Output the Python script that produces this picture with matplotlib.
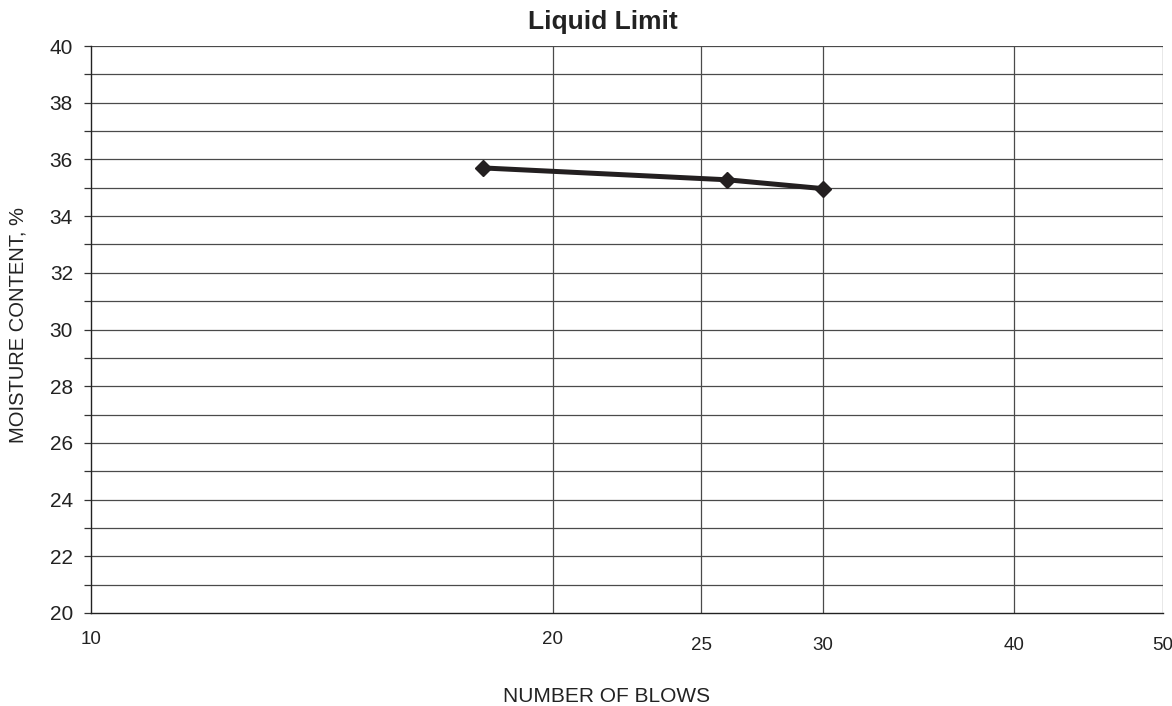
import matplotlib
matplotlib.use("Agg")
import matplotlib.pyplot as plt
from matplotlib.ticker import FixedLocator, NullFormatter, NullLocator
import matplotlib.transforms as mtransforms

plt.rcParams.update({"font.family": ["Liberation Sans", "DejaVu Sans"], "font.size": 13})

# ---- data ----
blows = [18, 26, 30]
moisture = [35.7, 35.28, 34.97]
x_ticks = [10, 20, 25, 30, 40, 50]
x_tick_dy = [0, 0, 5, 5, 5, 5]      # small vertical stagger of the x labels (px)
y_major = list(range(20, 41, 2))
y_minor = list(range(21, 40, 2))

fig = plt.figure(figsize=(11.72, 7.06), dpi=100)
ax = fig.add_axes([91 / 1172, 1 - 613 / 706, (1163 - 91) / 1172, (613 - 46) / 706])

ax.set_xscale("log")
ax.set_xlim(10, 50)
ax.set_ylim(20, 40)

# grid
grid_c = "#4a4a4a"
for x in x_ticks[1:]:
    ax.axvline(x, color=grid_c, lw=0.9, zorder=1)
for y in y_major[1:] + y_minor:
    ax.axhline(y, color=grid_c, lw=0.9, zorder=1)

ax.plot(blows, moisture, "-", color="#231f20", lw=3.6, zorder=3)
ax.plot(blows, moisture, "D", color="#231f20", ms=8, zorder=4)

# y axis
ax.yaxis.set_major_locator(FixedLocator(y_major))
ax.yaxis.set_minor_locator(FixedLocator(y_minor))
ax.tick_params(axis="y", which="both", direction="out", length=5, width=0.9,
               color="#333333", labelcolor="#222222", pad=8, labelsize=15)
ax.yaxis.set_minor_formatter(NullFormatter())

# x axis: labels drawn as text below the axis
ax.xaxis.set_major_locator(NullLocator())
ax.xaxis.set_minor_locator(NullLocator())
trans = mtransforms.blended_transform_factory(ax.transData, ax.transAxes)
for xt, dy in zip(x_ticks, x_tick_dy):
    off = mtransforms.offset_copy(trans, fig=fig, x=0, y=-(27 + dy) * 72 / 100, units="points")
    ax.text(xt, 0, str(xt), transform=off, ha="center", va="center",
            fontsize=13.5, color="#222222")

for s in ["top", "right"]:
    ax.spines[s].set_visible(False)
ax.spines["left"].set_color("#222222")
ax.spines["bottom"].set_color("#222222")
ax.spines["left"].set_linewidth(1.0)
ax.spines["bottom"].set_linewidth(1.0)

fig.text(603 / 1172, 1 - 22 / 706, "Liquid Limit", ha="center", va="center",
         fontsize=19, fontweight="bold", color="#222222")
fig.text(607 / 1172, 1 - 697 / 706, "NUMBER OF BLOWS", ha="center", va="center",
         fontsize=15, color="#222222")
fig.text(18 / 1172, 1 - 325 / 706, "MOISTURE CONTENT, %", ha="center", va="center",
         rotation=90, fontsize=14.5, color="#222222")

fig.savefig("out.png", dpi=100)
